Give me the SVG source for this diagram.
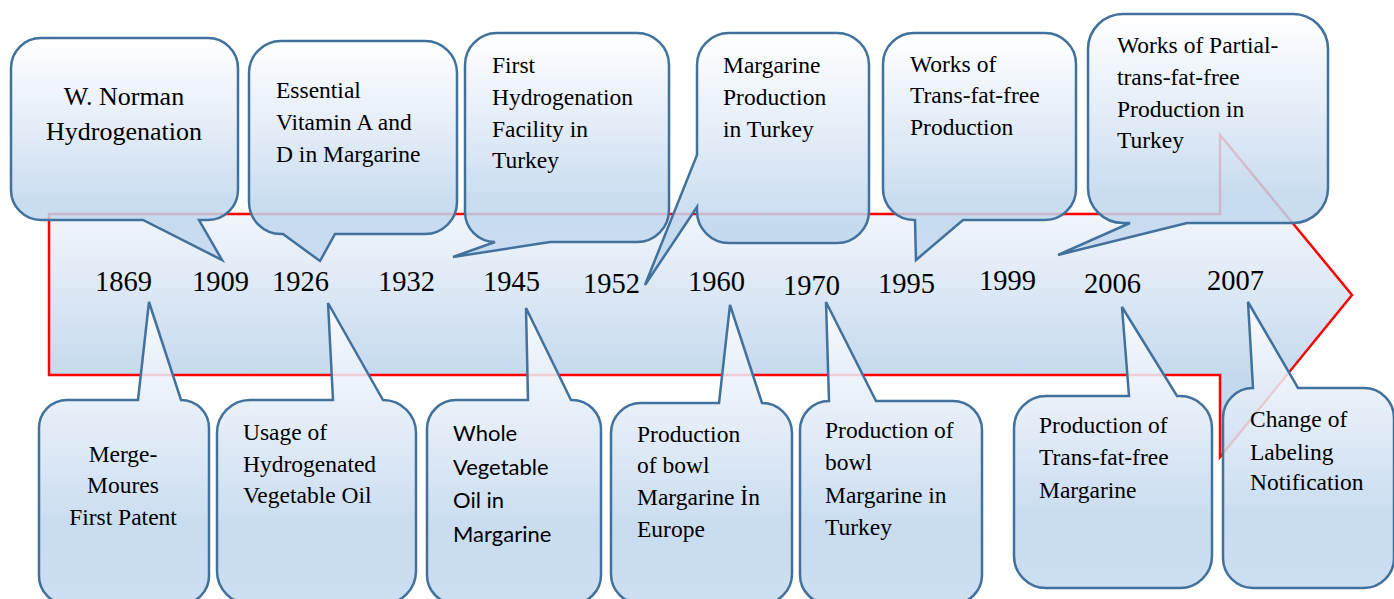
<svg xmlns="http://www.w3.org/2000/svg" width="1394" height="599" viewBox="0 0 1394 599">
<defs>
<linearGradient id="gArrow" x1="0" y1="0" x2="0" y2="1">
<stop offset="0" stop-color="#ffffff"/>
<stop offset="0.25" stop-color="#f1f5fb"/>
<stop offset="0.75" stop-color="#c5d9ee"/>
<stop offset="1" stop-color="#bcd4ec"/>
</linearGradient>
<linearGradient id="gBub" x1="0" y1="0" x2="0" y2="1">
<stop offset="0" stop-color="#ffffff"/>
<stop offset="0.45" stop-color="#dbe7f5"/>
<stop offset="0.75" stop-color="#bfd6ed"/>
<stop offset="1" stop-color="#c4d9ef"/>
</linearGradient>
</defs>
<style>
.arrow{fill:url(#gArrow);stroke:#ff0000;stroke-width:2.5}
.bub{fill:url(#gBub);fill-opacity:0.85;stroke:#41719c;stroke-width:2.5;stroke-linejoin:miter}
.t{font-family:"Liberation Serif","Times New Roman",serif;font-size:23.5px;fill:#000}
.big{font-size:26px}
.s{font-family:Lato,"Open Sans",sans-serif;font-size:22px;fill:#000}
.yr{font-family:"Liberation Serif","Times New Roman",serif;font-size:28.5px;fill:#000}
</style>
<g id="timeline-arrow">
<path class="arrow" d="M49,214 H1220 V135 L1352,295 L1220,457 V375 H49 Z"/>
</g>
<g id="connectors"></g>
<g id="n-norman">
<path class="bub" d="M41,38 H208 A30,30 0 0 1 238,68 V190 A30,30 0 0 1 208,220 H199 L222,260 L143,220 H41 A30,30 0 0 1 11,190 V68 A30,30 0 0 1 41,38 Z"/>
<text class="t big" text-anchor="middle"><tspan x="124" y="105">W. Norman</tspan><tspan x="124" y="140">Hydrogenation</tspan></text>
</g>
<g id="n-vitamin">
<path class="bub" d="M281,41 H425 A32,32 0 0 1 457,73 V202 A32,32 0 0 1 425,234 H335 L320,261 L283,234 H281 A32,32 0 0 1 249,202 V73 A32,32 0 0 1 281,41 Z"/>
<text class="t"><tspan x="276" y="98">Essential</tspan><tspan x="276" y="130">Vitamin A and</tspan><tspan x="276" y="162">D in Margarine</tspan></text>
</g>
<g id="n-facility">
<path class="bub" d="M497,33 H637 A32,32 0 0 1 669,65 V210 A32,32 0 0 1 637,242 H550 L453,257 L495,242 A30,30 0 0 1 465,212 V65 A32,32 0 0 1 497,33 Z"/>
<text class="t"><tspan x="492" y="73">First</tspan><tspan x="492" y="105">Hydrogenation</tspan><tspan x="492" y="137">Facility in</tspan><tspan x="492" y="168">Turkey</tspan></text>
</g>
<g id="n-margarine-tr">
<path class="bub" d="M729,33 H837 A32,32 0 0 1 869,65 V211 A32,32 0 0 1 837,243 H729 A32,32 0 0 1 697,211 V207 L645,285 L697,155 V65 A32,32 0 0 1 729,33 Z"/>
<text class="t"><tspan x="723" y="73">Margarine</tspan><tspan x="723" y="105">Production</tspan><tspan x="723" y="137">in Turkey</tspan></text>
</g>
<g id="n-transfree-works">
<path class="bub" d="M914,33 H1045 A31,31 0 0 1 1076,64 V189 A31,31 0 0 1 1045,220 H963 L916,260 L915,220 H914 A31,31 0 0 1 883,189 V64 A31,31 0 0 1 914,33 Z"/>
<text class="t"><tspan x="910" y="72">Works of</tspan><tspan x="910" y="103">Trans-fat-free</tspan><tspan x="910" y="135">Production</tspan></text>
</g>
<g id="n-partial">
<path class="bub" d="M1123,14 H1293 A35,35 0 0 1 1328,49 V188 A35,35 0 0 1 1293,223 H1187 L1058,255 L1130,223 H1123 A35,35 0 0 1 1088,188 V49 A35,35 0 0 1 1123,14 Z"/>
<text class="t"><tspan x="1117" y="53">Works of Partial-</tspan><tspan x="1117" y="85">trans-fat-free</tspan><tspan x="1117" y="117">Production in</tspan><tspan x="1117" y="148">Turkey</tspan></text>
</g>
<g id="n-patent">
<path class="bub" d="M67,400 H138 L149,302 L181,400 A28,28 0 0 1 209,428 V576 A28,28 0 0 1 181,604 H67 A28,28 0 0 1 39,576 V428 A28,28 0 0 1 67,400 Z"/>
<text class="t" text-anchor="middle"><tspan x="123" y="462">Merge-</tspan><tspan x="123" y="493">Moures</tspan><tspan x="123" y="525">First Patent</tspan></text>
</g>
<g id="n-usage">
<path class="bub" d="M250,400 H333 L328,303 L383,400 A33,33 0 0 1 416,433 V571 A33,33 0 0 1 383,604 H250 A33,33 0 0 1 217,571 V433 A33,33 0 0 1 250,400 Z"/>
<text class="t"><tspan x="243" y="440">Usage of</tspan><tspan x="243" y="472">Hydrogenated</tspan><tspan x="243" y="503">Vegetable Oil</tspan></text>
</g>
<g id="n-whole">
<path class="bub" d="M456,400 H528 L526,308 L571,400 H572 A29,29 0 0 1 601,429 V575 A29,29 0 0 1 572,604 H456 A29,29 0 0 1 427,575 V429 A29,29 0 0 1 456,400 Z"/>
<text class="s"><tspan x="453" y="441">Whole</tspan><tspan x="453" y="475">Vegetable</tspan><tspan x="453" y="508">Oil in</tspan><tspan x="453" y="542">Margarine</tspan></text>
</g>
<g id="n-bowl-eu">
<path class="bub" d="M641,403 H719 L730,305 L762,403 A30,30 0 0 1 792,433 V574 A30,30 0 0 1 762,604 H641 A30,30 0 0 1 611,574 V433 A30,30 0 0 1 641,403 Z"/>
<text class="t"><tspan x="637" y="442">Production</tspan><tspan x="637" y="473">of bowl</tspan><tspan x="637" y="505">Margarine İn</tspan><tspan x="637" y="537">Europe</tspan></text>
</g>
<g id="n-bowl-tr">
<path class="bub" d="M829,401 L826,302 L876,401 H953 A29,29 0 0 1 982,430 V575 A29,29 0 0 1 953,604 H829 A29,29 0 0 1 800,575 V430 A29,29 0 0 1 829,401 Z"/>
<text class="t"><tspan x="825" y="438">Production of</tspan><tspan x="825" y="470">bowl</tspan><tspan x="825" y="503">Margarine in</tspan><tspan x="825" y="535">Turkey</tspan></text>
</g>
<g id="n-transfree-marg">
<path class="bub" d="M1046,396 H1129 L1122,307 L1177,396 H1180 A32,32 0 0 1 1212,428 V556 A32,32 0 0 1 1180,588 H1046 A32,32 0 0 1 1014,556 V428 A32,32 0 0 1 1046,396 Z"/>
<text class="t"><tspan x="1039" y="433">Production of</tspan><tspan x="1039" y="465">Trans-fat-free</tspan><tspan x="1039" y="498">Margarine</tspan></text>
</g>
<g id="n-labeling">
<path class="bub" d="M1253,388 L1248,302 L1298,388 H1364 A30,30 0 0 1 1394,418 V558 A30,30 0 0 1 1364,588 H1253 A30,30 0 0 1 1223,558 V418 A30,30 0 0 1 1253,388 Z"/>
<text class="t"><tspan x="1250" y="427">Change of</tspan><tspan x="1250" y="460">Labeling</tspan><tspan x="1250" y="490">Notification</tspan></text>
</g>
<g id="years" class="yr">
<text x="95" y="291">1869</text>
<text x="192" y="291">1909</text>
<text x="272" y="291">1926</text>
<text x="378" y="291">1932</text>
<text x="483" y="291">1945</text>
<text x="583" y="293">1952</text>
<text x="688" y="291">1960</text>
<text x="783" y="295">1970</text>
<text x="878" y="293">1995</text>
<text x="979" y="290">1999</text>
<text x="1084" y="293">2006</text>
<text x="1207" y="290">2007</text>
</g>
</svg>
